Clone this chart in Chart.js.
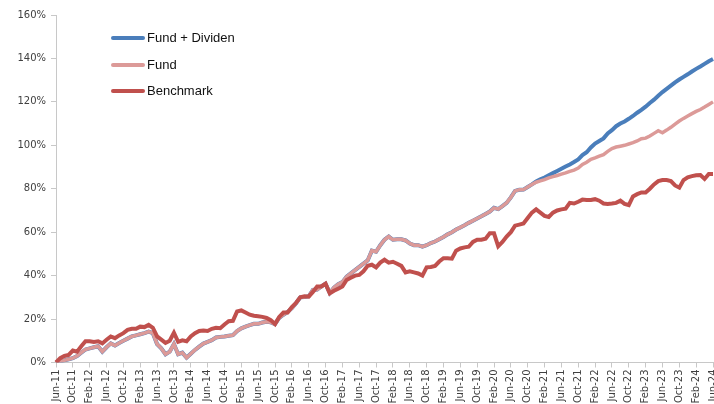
<!DOCTYPE html>
<html>
<head>
<meta charset="utf-8">
<script src="https://cdn.jsdelivr.net/npm/chart.js@4.4.1/dist/chart.umd.min.js"></script>
<style>
    body { margin: 0; background: #fff; }
    #wrap { position: relative; width: 714px; height: 404px; }
    #legend { position: absolute; left: 111px; top: 28px; font: 13px "Liberation Sans", Arial, sans-serif; color: #111; }
    .row { position: relative; height: 26.5px; }
    .swatch { position: absolute; left: 0; top: 8px; width: 34px; height: 4px; border-radius: 2px; }
    .label { position: absolute; left: 36px; top: 2px; white-space: nowrap; }
</style>
</head>
<body>
<div id="wrap">
    <canvas id="chart" width="714" height="404"></canvas>
    <div id="legend"></div>
</div>
<script>
// Monthly data, Jun-11 .. Jun-24 (157 points), cumulative return in %
const startYear = 2011, startMonth = 5;
const monthNames = ['Jan', 'Feb', 'Mar', 'Apr', 'May', 'Jun', 'Jul', 'Aug', 'Sep', 'Oct', 'Nov', 'Dec'];

const fund = [
    0, 0.5, 1, 1.5, 2, 3, 4.5, 6, 6.5, 7, 7.5, 5,
    7, 8.8, 7.8, 9, 10, 11, 12, 12.5, 13, 13.5, 14.2, 13.5,
    8.5, 6.5, 3.8, 5, 8.5, 3.8, 4.5, 2.2, 4, 5.8, 7.3, 8.7,
    9.5, 10.3, 11.5, 11.8, 12, 12.3, 12.6, 14.5, 15.7, 16.5, 17.2, 17.8,
    17.8, 18.4, 18.8, 18.5, 17.7, 20.5, 22, 23.3, 25, 27.3, 30, 30.2,
    30.5, 33.4, 33.6, 35, 36.3, 32, 34.5, 36, 37, 39.5, 41, 42.5,
    44, 45.5, 47, 51.5, 51, 54, 56.5, 58, 56.5, 56.7, 56.7, 56.2,
    54.8, 54, 54, 53.3, 54, 55, 55.7, 56.8, 57.8, 59, 60, 61.2,
    62.2, 63.2, 64.3, 65.3, 66.3, 67.3, 68.4, 69.5, 71.2, 70.6, 72, 73.5,
    76, 79, 79.5, 79.6, 80.8, 82, 83, 83.6, 84.2, 85, 85.6, 86.1,
    86.7, 87.3, 88, 88.6, 89.5, 91.2, 92.2, 93.6, 94.2, 95, 95.7, 97.2,
    98.5, 99.2, 99.6, 100, 100.6, 101.2, 102, 103, 103.3, 104.3, 105.5, 106.7,
    105.8, 107, 108.3, 109.8, 111.2, 112.4, 113.5, 114.6, 115.6, 116.5, 117.6, 118.8,
    120
];

const fundDividend = [
    0, 0.5, 1, 1.5, 2, 3, 4.5, 6, 6.5, 7, 7.5, 5,
    7, 8.8, 7.8, 9, 10, 11, 12, 12.5, 13, 13.5, 14.2, 13.5,
    8.5, 6.5, 3.8, 5, 8.5, 3.8, 4.5, 2.2, 4, 5.8, 7.3, 8.7,
    9.5, 10.3, 11.5, 11.8, 12, 12.3, 12.6, 14.5, 15.7, 16.5, 17.2, 17.8,
    17.8, 18.4, 18.8, 18.5, 17.7, 20.5, 22, 23.3, 25, 27.3, 30, 30.2,
    30.5, 33.4, 33.6, 35, 36.3, 32, 34.5, 36, 37, 39.5, 41, 42.5,
    44, 45.5, 47, 51.5, 51, 54, 56.5, 58, 56.5, 56.7, 56.7, 56.2,
    54.8, 54, 54, 53.3, 54, 55, 55.7, 56.8, 57.8, 59, 60, 61.2,
    62.2, 63.2, 64.3, 65.3, 66.3, 67.3, 68.4, 69.5, 71.2, 70.6, 72, 73.5,
    76, 79, 79.5, 79.6, 80.8, 82, 83.3, 84.3, 85.2, 86.2, 87.2, 88.2,
    89.2, 90.2, 91.2, 92.3, 93.5, 95.5, 96.8, 99, 100.8, 102, 103.2, 105.5,
    107, 108.8, 110, 111, 112.2, 113.5, 115, 116.3, 117.8, 119.5, 121, 122.8,
    124.5, 126, 127.5, 129, 130.3, 131.5, 132.7, 134, 135.2, 136.3, 137.5, 138.7,
    139.7
];

const benchmark = [
    0, 2, 3, 3.5, 5.5, 5, 7.5, 9.8, 9.8, 9.5, 9.8, 8.8,
    10.5, 12, 11.2, 12.5, 13.5, 15, 15.5, 15.5, 16.5, 16.3, 17.3, 16,
    12, 10.5, 9, 10, 13.7, 9.5, 10.2, 9.8, 12, 13.5, 14.5, 14.7,
    14.5, 15.5, 16, 15.8, 17.5, 19, 19.2, 23.5, 24, 23, 22, 21.5,
    21.3, 21, 20.5, 19.5, 17.7, 21, 23, 23, 25.5, 27.5, 30, 30.5,
    30.3, 32.5, 35, 35, 36.3, 31.8, 33, 34, 35, 38, 39, 40,
    40.3, 42, 44.5, 45, 43.8, 46, 47.3, 46, 46.4, 45.5, 44.5, 41.5,
    42, 41.5, 41, 40, 43.8, 44, 44.5, 46.5, 48, 48, 47.8, 51.5,
    52.5, 53, 53.3, 55.5, 56.5, 56.5, 57, 59.5, 59.5, 53.5, 55.5, 58,
    60, 63, 63.5, 64, 66.5, 69, 70.5, 69, 67.5, 67, 69, 70,
    70.5, 70.8, 73.5, 73.2, 74, 75, 74.8, 74.8, 75.2, 74.5, 73.2, 73,
    73.2, 73.5, 74.5, 73, 72.5, 76.5, 77.5, 78.3, 78.3, 80, 82, 83.5,
    84, 84, 83.5, 81.5, 80.5, 84, 85.3, 85.8, 86.2, 86.3, 84.5, 86.8,
    86.8
];

const labels = fund.map((v, i) => {
    const m = startMonth + i;
    const y = startYear + Math.floor(m / 12);
    return monthNames[m % 12] + '-' + String(y).slice(2);
});

const yTicks = [0, 20, 40, 60, 80, 100, 120, 140, 160];

const series = [
    { name: 'Fund + Dividen', data: fundDividend, color: '#4a7ebb', width: 4, order: 3 },
    { name: 'Fund', data: fund, color: '#dc9a98', width: 3.5, order: 2 },
    { name: 'Benchmark', data: benchmark, color: '#c0504d', width: 4, order: 1 }
];

// HTML legend drawn inside the plot area
const legendEl = document.getElementById('legend');
series.forEach(s => {
    const row = document.createElement('div');
    row.className = 'row';
    row.innerHTML = `<span class="swatch" style="background:${s.color}"></span><span class="label">${s.name}</span>`;
    legendEl.appendChild(row);
});

const axisColor = '#c8c8c8';
const tickFont = { family: '"DejaVu Sans", Verdana, sans-serif', size: 10 };

new Chart(document.getElementById('chart').getContext('2d'), {
    type: 'line',
    data: {
        labels: labels,
        datasets: series.map(s => ({
            label: s.name,
            data: s.data,
            borderColor: s.color,
            backgroundColor: s.color,
            borderWidth: s.width,
            pointRadius: 0,
            tension: 0,
            order: s.order
        }))
    },
    options: {
        responsive: false,
        animation: false,
        layout: { padding: { top: 15, right: 1, left: 0, bottom: 0 } },
        plugins: { legend: { display: false }, tooltip: { enabled: false } },
        scales: {
            x: {
                border: { color: axisColor },
                grid: { drawOnChartArea: false, tickLength: 5, color: axisColor },
                ticks: {
                    autoSkip: false,
                    minRotation: 90,
                    maxRotation: 90,
                    padding: 2,
                    color: '#404040',
                    font: tickFont
                },
                afterBuildTicks: (scale) => {
                    scale.ticks = scale.ticks.filter(t => t.value % 4 === 0);
                },
                afterFit: (scale) => {
                    scale.height = 41.5;
                    scale.paddingLeft = 0;
                    scale.paddingRight = 0;
                }
            },
            y: {
                min: 0,
                max: 160,
                border: { color: axisColor },
                grid: { drawOnChartArea: false, tickLength: 5, color: axisColor },
                afterBuildTicks: (scale) => {
                    scale.ticks = yTicks.map(v => ({ value: v }));
                },
                ticks: {
                    padding: 5,
                    color: '#404040',
                    font: tickFont,
                    callback: (v) => v + '%'
                },
                afterFit: (scale) => {
                    scale.width = 56;
                }
            }
        }
    }
});
</script>
</body>
</html>
